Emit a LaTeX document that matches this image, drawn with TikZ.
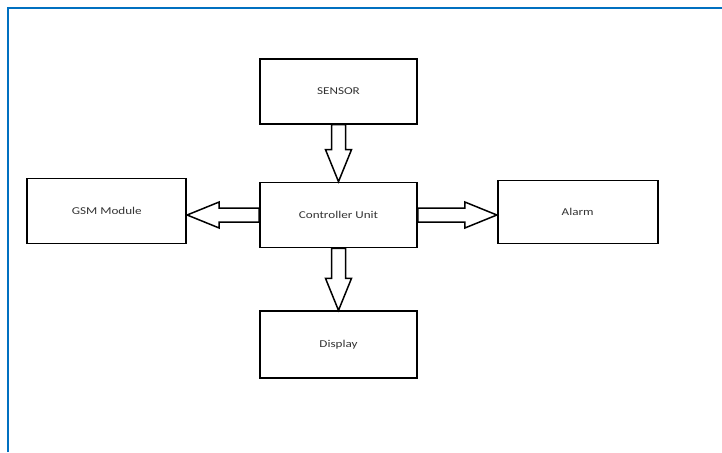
\documentclass[tikz,border=0pt]{standalone}
\usepackage{fontspec}
\setmainfont{Carlito}[FakeStretch=1.25]
\usetikzlibrary{
    positioning, % Para posicionar nós de forma relativa (ex: above=of)
    calc         % Para calcular os cantos das setas largas
}
\definecolor{moldura}{RGB}{0,112,192}

\begin{document}
\begin{tikzpicture}[x=1pt, y=-1pt]

    % --- Definição de Estilos ---
    \tikzset{
        % Estilo para as caixas dos blocos
        bloco/.style={
            draw,
            line width=1.7pt,
            minimum width=157pt,
            minimum height=65pt,
            text=black!80,
            font=\fontsize{10.5}{12}\selectfont
        },
        % Estilo para as setas largas (vazadas)
        seta_larga/.style={
            draw,
            line width=1.5pt,
            fill=white,
            to path={
                ($(\tikztotarget)!32pt!(\tikztostart)$) coordinate (base)
                ($(\tikztostart)!7pt!90:(\tikztotarget)$)
                -- ($(base)!7pt!90:(\tikztotarget)$)
                -- ($(base)!13pt!90:(\tikztotarget)$)
                -- (\tikztotarget)
                -- ($(base)!13pt!-90:(\tikztotarget)$)
                -- ($(base)!7pt!-90:(\tikztotarget)$)
                -- ($(\tikztostart)!7pt!-90:(\tikztotarget)$)
                -- cycle
            }
        },
        % Estilo para a moldura azul
        moldura/.style={
            draw=moldura,
            line width=2pt
        }
    }

    % Área da figura
    \useasboundingbox (0,0) rectangle (722,452);
    \draw[moldura] (7.5,452) |- (722,7.8);

    % --- Criação dos Nós ---

    % Unidade central
    \node[bloco] (controle) at (338.5,215) {Controller Unit};

    % Sensor (acima)
    \node[bloco, above=57pt of controle] (sensor) {SENSOR};

    % Display (abaixo)
    \node[bloco, minimum height=67pt, below=62pt of controle] (display) {Display};

    % GSM (à esquerda), um pouco mais alto
    \node[bloco, minimum width=159pt, left=72pt of controle, yshift=4pt] (gsm) {GSM Module};

    % Alarme (à direita)
    \node[bloco, minimum width=160pt, minimum height=63pt, right=79pt of controle, yshift=3pt] (alarme) {Alarm};

    % --- Desenhando as Setas ---
    \draw[seta_larga] (sensor.south) to (controle.north);
    \draw[seta_larga] (controle.south) to (display.north);
    \draw[seta_larga] (controle.west) to (gsm.east |- controle.west);
    \draw[seta_larga] (controle.east) to (alarme.west |- controle.east);

\end{tikzpicture}
\end{document}
